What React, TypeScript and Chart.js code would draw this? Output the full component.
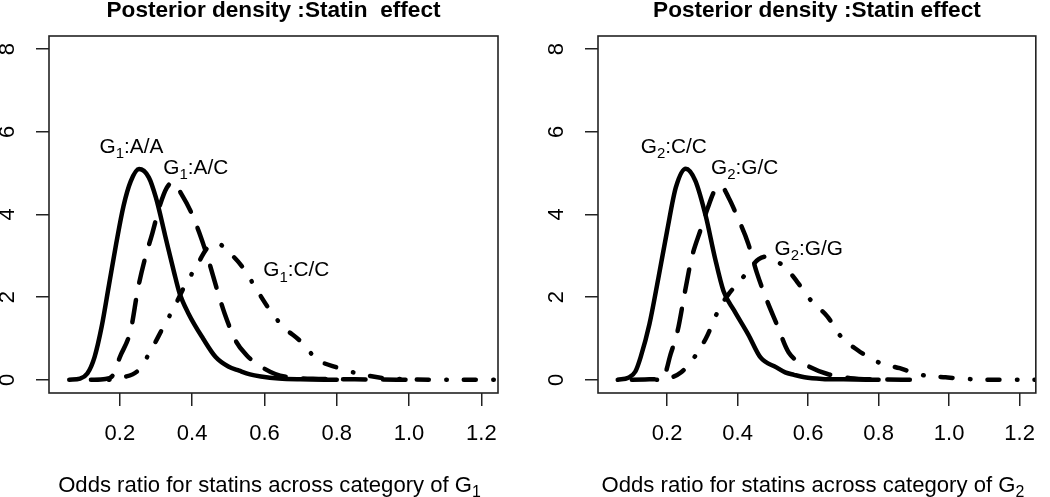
import React, { useEffect, useRef } from "react";
import { Chart, registerables } from "chart.js";

Chart.register(...registerables);

const FAMILY = '"Liberation Sans", Arial, Helvetica, sans-serif';

// ---- axis ticks ----
const X_TICKS = [0.2, 0.4, 0.6, 0.8, 1.0, 1.2];
const Y_TICKS = [0, 2, 4, 6, 8];
const X_MIN = 0.004;
const X_MAX = 1.246;
const Y_MIN = -0.32;
const Y_MAX = 8.32;

// ---- panel 1 (G1) ----
const G1_AA_X = [0.06, 0.09, 0.11, 0.13, 0.15, 0.17, 0.19, 0.21, 0.23, 0.253, 0.28, 0.3, 0.325, 0.35, 0.365, 0.39, 0.43, 0.465, 0.5, 0.53, 0.56, 0.59, 0.64, 0.7, 0.8];
const G1_AA_Y = [0, 0.03, 0.15, 0.55, 1.3, 2.3, 3.3, 4.2, 4.8, 5.1, 4.9, 4.4, 3.5, 2.6, 2.1, 1.6, 1.0, 0.55, 0.32, 0.22, 0.13, 0.08, 0.03, 0.01, 0];

const G1_AC_X = [0.12, 0.16, 0.18, 0.2, 0.23, 0.25, 0.27, 0.29, 0.31, 0.33, 0.347, 0.37, 0.4, 0.42, 0.445, 0.47, 0.49, 0.52, 0.55, 0.58, 0.63, 0.68, 0.75, 0.85, 1.0];
const G1_AC_Y = [0, 0.02, 0.1, 0.55, 1.2, 2.2, 2.95, 3.55, 4.2, 4.65, 4.78, 4.5, 4.0, 3.55, 2.9, 2.15, 1.6, 0.95, 0.6, 0.38, 0.14, 0.05, 0.02, 0.01, 0];

const G1_CC_X = [0.17, 0.21, 0.25, 0.28, 0.32, 0.35, 0.38, 0.41, 0.445, 0.47, 0.5, 0.54, 0.58, 0.61, 0.65, 0.7, 0.745, 0.8, 0.865, 0.93, 1.0, 1.1, 1.26];
const G1_CC_Y = [0, 0.06, 0.22, 0.62, 1.27, 1.75, 2.28, 2.72, 3.22, 3.3, 3.1, 2.72, 2.16, 1.75, 1.3, 0.93, 0.5, 0.3, 0.14, 0.04, 0.01, 0, 0];

// ---- panel 2 (G2) ----
const G2_CC_X = [0.06, 0.09, 0.11, 0.125, 0.15, 0.175, 0.2, 0.225, 0.253, 0.28, 0.31, 0.335, 0.36, 0.39, 0.43, 0.465, 0.51, 0.535, 0.56, 0.59, 0.64, 0.7, 0.8];
const G2_CC_Y = [0, 0.05, 0.2, 0.55, 1.35, 2.45, 3.6, 4.66, 5.11, 4.82, 3.95, 2.98, 2.15, 1.68, 1.1, 0.54, 0.3, 0.18, 0.12, 0.06, 0.02, 0.01, 0];

const G2_GC_X = [0.1, 0.15, 0.19, 0.21, 0.23, 0.25, 0.27, 0.295, 0.315, 0.335, 0.352, 0.375, 0.4, 0.43, 0.455, 0.485, 0.51, 0.545, 0.59, 0.655, 0.72, 0.8, 0.9];
const G2_GC_Y = [0, 0.01, 0.08, 0.62, 1.19, 2.1, 2.96, 3.63, 4.15, 4.58, 4.7, 4.4, 3.93, 3.3, 2.58, 1.88, 1.37, 0.66, 0.38, 0.14, 0.04, 0.01, 0];

const G2_GG_X = [0.17, 0.21, 0.24, 0.27, 0.31, 0.345, 0.375, 0.41, 0.437, 0.46, 0.482, 0.505, 0.54, 0.57, 0.61, 0.655, 0.69, 0.74, 0.8, 0.86, 0.92, 0.99, 1.05, 1.15, 1.26];
const G2_GG_Y = [0, 0.05, 0.18, 0.46, 1.0, 1.67, 2.08, 2.42, 2.72, 2.92, 2.98, 2.9, 2.68, 2.36, 1.9, 1.53, 1.08, 0.72, 0.42, 0.28, 0.12, 0.06, 0.02, 0, 0];

// ---- text ----
const TITLE_1 = "Posterior density :Statin  effect";
const TITLE_2 = "Posterior density :Statin effect";
const XLAB_MAIN = "Odds ratio for statins across category of G";
const G1_LABELS = [":A/A", ":A/C", ":C/C"];
const G2_LABELS = [":C/C", ":G/C", ":G/G"];
const G1_LABEL_X = [0.232, 0.41, 0.688];
const G1_LABEL_Y = [5.5, 4.99, 2.5];
const G2_LABEL_X = [0.219, 0.42, 0.602];
const G2_LABEL_Y = [5.5, 4.99, 3.03];

const DASHES: number[][] = [[], [22.5, 17.5], [0.5, 17, 12, 17.5]];

type Part = { t: string; sub?: boolean };

function drawRich(ctx: CanvasRenderingContext2D, parts: Part[], cx: number, baseline: number, size: number, weight = "normal") {
  const mainFont = `${weight} ${size}px ${FAMILY}`;
  const subFont = `${weight} ${size * 0.72}px ${FAMILY}`;
  const widths = parts.map((p) => {
    ctx.font = p.sub ? subFont : mainFont;
    return ctx.measureText(p.t).width;
  });
  const total = widths.reduce((a, b) => a + b, 0);
  let x = cx - total / 2;
  ctx.textAlign = "left";
  ctx.textBaseline = "alphabetic";
  ctx.fillStyle = "#000";
  parts.forEach((p, i) => {
    ctx.font = p.sub ? subFont : mainFont;
    ctx.fillText(p.t, x, baseline + (p.sub ? size * 0.27 : 0));
    x += widths[i];
  });
}

function makePanel(opts: {
  title: string;
  gIdx: string;
  xs: number[][];
  ys: number[][];
  labels: string[];
  labelX: number[];
  labelY: number[];
  leftW: number;
  padRight: number;
}) {
  const datasets = opts.xs.map((xv, k) => ({
    label: "G" + opts.gIdx + opts.labels[k],
    data: xv.map((x, i) => ({ x, y: opts.ys[k][i] })),
    borderColor: "#000",
    borderWidth: 4.5,
    borderDash: DASHES[k],
    borderCapStyle: "round" as const,
    borderJoinStyle: "round" as const,
    cubicInterpolationMode: "monotone" as const,
    pointRadius: 0,
    fill: false,
  }));

  const decor = {
    id: "decor" + opts.gIdx,
    afterDraw(chart: any) {
      const ctx: CanvasRenderingContext2D = chart.ctx;
      const { left, top, right, bottom } = chart.chartArea;
      const xs = chart.scales.x;
      const ys = chart.scales.y;
      ctx.save();
      // box
      ctx.strokeStyle = "#222";
      ctx.lineWidth = 1.6;
      ctx.strokeRect(left, top, right - left, bottom - top);
      // title
      ctx.font = `bold 22.6px ${FAMILY}`;
      ctx.fillStyle = "#000";
      ctx.textAlign = "center";
      ctx.textBaseline = "alphabetic";
      ctx.fillText(opts.title, (left + right) / 2, 17);
      // curve labels
      opts.labels.forEach((lab, k) => {
        drawRich(
          ctx,
          [{ t: "G" }, { t: opts.gIdx, sub: true }, { t: lab }],
          xs.getPixelForValue(opts.labelX[k]),
          ys.getPixelForValue(opts.labelY[k]),
          20.8
        );
      });
      // x title
      drawRich(ctx, [{ t: XLAB_MAIN }, { t: opts.gIdx, sub: true }], (left + right) / 2 - 4, 491.5, 22.1);
      ctx.restore();
    },
  };

  return {
    type: "line" as const,
    data: { datasets },
    options: {
      responsive: false,
      animation: false as const,
      devicePixelRatio: 1,
      layout: { padding: { top: 36, right: opts.padRight, left: 0, bottom: 0 } },
      plugins: {
        legend: { display: false },
        tooltip: { enabled: false },
        title: { display: false },
      },
      scales: {
        x: {
          type: "linear" as const,
          min: X_MIN,
          max: X_MAX,
          afterBuildTicks: (s: any) => {
            s.ticks = X_TICKS.map((v) => ({ value: v }));
          },
          afterFit: (s: any) => {
            s.height = 104;
          },
          border: { display: false },
          grid: {
            display: true,
            drawOnChartArea: false,
            drawTicks: true,
            tickLength: 13,
            color: "#222",
            lineWidth: 1.5,
          },
          ticks: {
            autoSkip: false,
            maxRotation: 0,
            minRotation: 0,
            padding: 15,
            color: "#000",
            font: { family: FAMILY, size: 22 },
            callback: (v: any) => Number(v).toFixed(1),
          },
        },
        y: {
          type: "linear" as const,
          min: Y_MIN,
          max: Y_MAX,
          afterBuildTicks: (s: any) => {
            s.ticks = Y_TICKS.map((v) => ({ value: v }));
          },
          afterFit: (s: any) => {
            s.width = opts.leftW;
          },
          border: { display: false },
          grid: {
            display: true,
            drawOnChartArea: false,
            drawTicks: true,
            tickLength: 13,
            color: "#222",
            lineWidth: 1.5,
          },
          ticks: {
            autoSkip: false,
            minRotation: 90,
            maxRotation: 90,
            crossAlign: "center" as const,
            padding: 21.5,
            color: "#000",
            font: { family: FAMILY, size: 22 },
            callback: (v: any) => String(v),
          },
        },
      },
    },
    plugins: [decor],
  };
}

function Panel(props: { config: any }) {
  const ref = useRef<HTMLCanvasElement | null>(null);
  useEffect(() => {
    if (!ref.current) return;
    const chart = new Chart(ref.current, props.config);
    return () => chart.destroy();
  }, []);
  return <canvas ref={ref} width={525} height={497} style={{ display: "block", width: 525, height: 497 }} />;
}

export default function App() {
  const cfg1 = makePanel({
    title: TITLE_1,
    gIdx: "1",
    xs: [G1_AA_X, G1_AC_X, G1_CC_X],
    ys: [G1_AA_Y, G1_AC_Y, G1_CC_Y],
    labels: G1_LABELS,
    labelX: G1_LABEL_X,
    labelY: G1_LABEL_Y,
    leftW: 49,
    padRight: 27,
  });
  const cfg2 = makePanel({
    title: TITLE_2,
    gIdx: "2",
    xs: [G2_CC_X, G2_GC_X, G2_GG_X],
    ys: [G2_CC_Y, G2_GC_Y, G2_GG_Y],
    labels: G2_LABELS,
    labelX: G2_LABEL_X,
    labelY: G2_LABEL_Y,
    leftW: 73,
    padRight: 3,
  });
  return (
    <div
      style={{
        position: "absolute",
        left: 0,
        top: 0,
        width: 1050,
        height: 497,
        display: "flex",
        background: "#fff",
        overflow: "hidden",
      }}
    >
      <Panel config={cfg1} />
      <Panel config={cfg2} />
    </div>
  );
}
